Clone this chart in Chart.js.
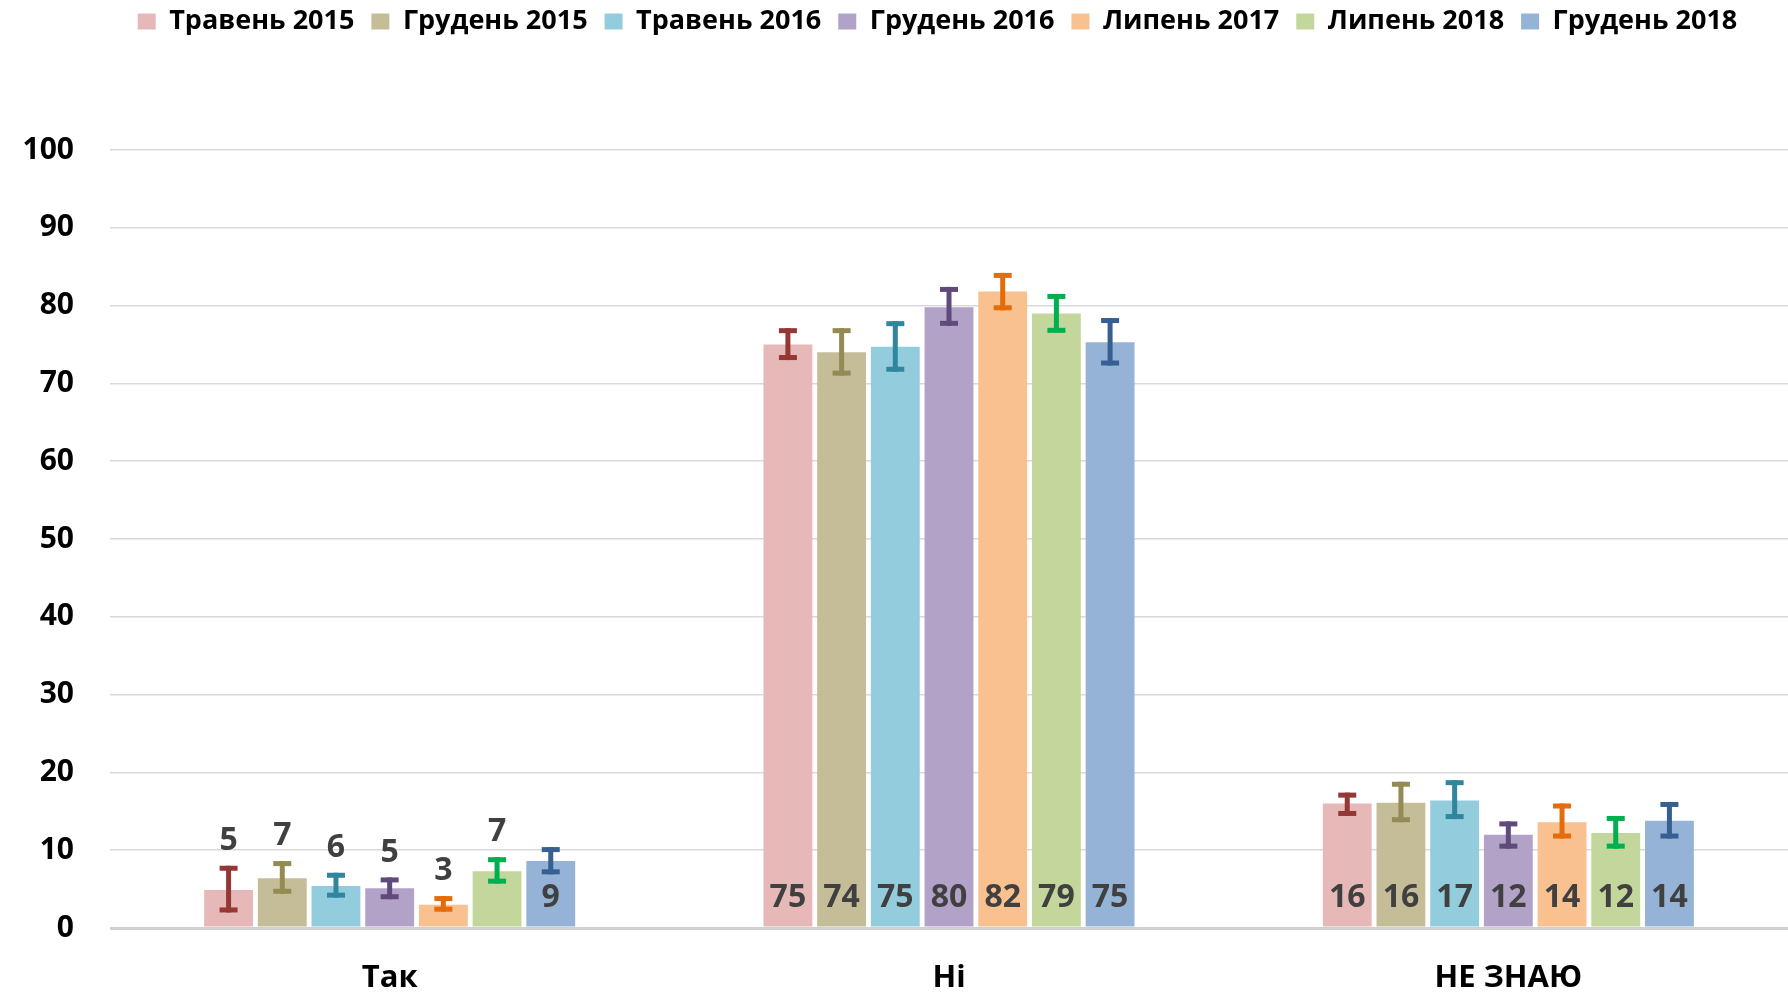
<!DOCTYPE html>
<html>
<head>
<meta charset="utf-8">
<script src="https://cdn.jsdelivr.net/npm/chart.js@4.4.1/dist/chart.umd.min.js"></script>
<style>
  html, body { margin: 0; padding: 0; background: #fff; }
  #wrap { width: 1788px; height: 992px; }
</style>
</head>
<body>
<div id="wrap"><canvas id="chart" width="1788" height="992"></canvas></div>
<script>
const categories = ['Так', 'Ні', 'НЕ ЗНАЮ'];
const seriesNames = ['Травень 2015', 'Грудень 2015', 'Травень 2016', 'Грудень 2016', 'Липень 2017', 'Липень 2018', 'Грудень 2018'];

// bar heights, one row per series (Так, Ні, НЕ ЗНАЮ)
const barValues = [
  [4.9, 75.0, 16.0],
  [6.4, 74.0, 16.1],
  [5.4, 74.7, 16.4],
  [5.1, 79.8, 12.0],
  [3.0, 81.8, 13.6],
  [7.3, 79.0, 12.2],
  [8.6, 75.3, 13.8]
];
// error bar ends
const errLow = [
  [2.0, 73.0, 14.4],
  [4.4, 71.0, 13.6],
  [3.9, 71.5, 14.0],
  [3.7, 77.4, 10.2],
  [2.1, 79.4, 11.5],
  [5.7, 76.5, 10.2],
  [6.9, 72.3, 11.5]
];
const errHigh = [
  [8.0, 77.1, 17.4],
  [8.6, 77.1, 18.8],
  [7.1, 78.0, 19.0],
  [6.5, 82.4, 13.7],
  [4.1, 84.2, 16.0],
  [9.1, 81.5, 14.4],
  [10.4, 78.4, 16.2]
];
// numbers printed on the chart
const shownLabels = [
  [5, 75, 16],
  [7, 74, 16],
  [6, 75, 17],
  [5, 80, 12],
  [3, 82, 14],
  [7, 79, 12],
  [9, 75, 14]
];
const yTicks = [0, 10, 20, 30, 40, 50, 60, 70, 80, 90, 100];

const barColors = ['#e6b9b8', '#c4bd97', '#93cddd', '#b3a2c7', '#f9c090', '#c3d69b', '#95b3d7'];
const errColors = ['#953735', '#948a54', '#31859c', '#604a7b', '#e46c0a', '#00b050', '#376092'];

const FONT = "'Open Sans', 'DejaVu Sans', sans-serif";

const errorBarsPlugin = {
  id: 'errorBars',
  afterDatasetsDraw(chart) {
    const ctx = chart.ctx;
    const y = chart.scales.y;
    const base = y.getPixelForValue(0);
    chart.data.datasets.forEach((ds, d) => {
      const meta = chart.getDatasetMeta(d);
      meta.data.forEach((bar, i) => {
        const top = y.getPixelForValue(errHigh[d][i]);
        const bot = y.getPixelForValue(errLow[d][i]);
        ctx.save();
        ctx.fillStyle = errColors[d];
        ctx.fillRect(bar.x - 2.5, top, 5, bot - top);
        ctx.fillRect(bar.x - 9, top, 18, 5);
        ctx.fillRect(bar.x - 9, bot - 5, 18, 5);
        ctx.restore();

        // value label: above short bars, at the inside base otherwise
        const ly = barValues[d][i] < 8 ? top - 25 : base - 30;
        ctx.save();
        ctx.fillStyle = '#404040';
        ctx.font = 'bold 32px ' + FONT;
        ctx.textAlign = 'center';
        ctx.textBaseline = 'middle';
        ctx.fillText(String(shownLabels[d][i]), bar.x, ly);
        ctx.restore();
      });
    });
  }
};

const legendSpacing = {
  id: 'legendSpacing',
  beforeInit(chart) {
    const fit = chart.legend.fit;
    chart.legend.fit = function () {
      fit.bind(chart.legend)();
      this.height = 150;
    };
  },
  afterLayout(chart) {
    chart.legend.left += 63;
    chart.legend.top -= 9;
  }
};

new Chart(document.getElementById('chart'), {
  type: 'bar',
  data: {
    labels: categories,
    datasets: seriesNames.map((name, d) => ({
      label: name,
      data: barValues[d],
      backgroundColor: barColors[d],
      borderWidth: 0,
      categoryPercentage: 0.672,
      barPercentage: 0.91
    }))
  },
  options: {
    responsive: false,
    animation: false,
    layout: { padding: { left: 24, right: 0, top: 0, bottom: 0 } },
    plugins: {
      legend: {
        position: 'top',
        labels: {
          boxWidth: 18,
          boxHeight: 16,
          padding: 17,
          color: '#000',
          font: { family: FONT, size: 27, weight: 'bold' }
        }
      },
      tooltip: { enabled: false }
    },
    scales: {
      x: {
        afterFit(scale) { scale.height = 64; },
        grid: { display: false, drawTicks: false },
        border: { display: false },
        ticks: {
          color: '#000',
          padding: 32,
          font: { family: FONT, size: 31, weight: 'bold' }
        }
      },
      y: {
        min: 0,
        max: 100,
        afterFit(scale) { scale.width = 86; },
        afterBuildTicks(scale) {
          scale.ticks = yTicks.map(v => ({ value: v }));
        },
        grid: {
          color: ctx => ctx.tick && ctx.tick.value === 0 ? '#d0d0d0' : '#d9d9d9',
          lineWidth: ctx => ctx.tick && ctx.tick.value === 0 ? 3 : 1.5,
          drawTicks: false
        },
        border: { display: false },
        ticks: {
          color: '#000',
          padding: 36,
          font: { family: FONT, size: 30, weight: 'bold' }
        }
      }
    }
  },
  plugins: [errorBarsPlugin, legendSpacing]
});
</script>
</body>
</html>
